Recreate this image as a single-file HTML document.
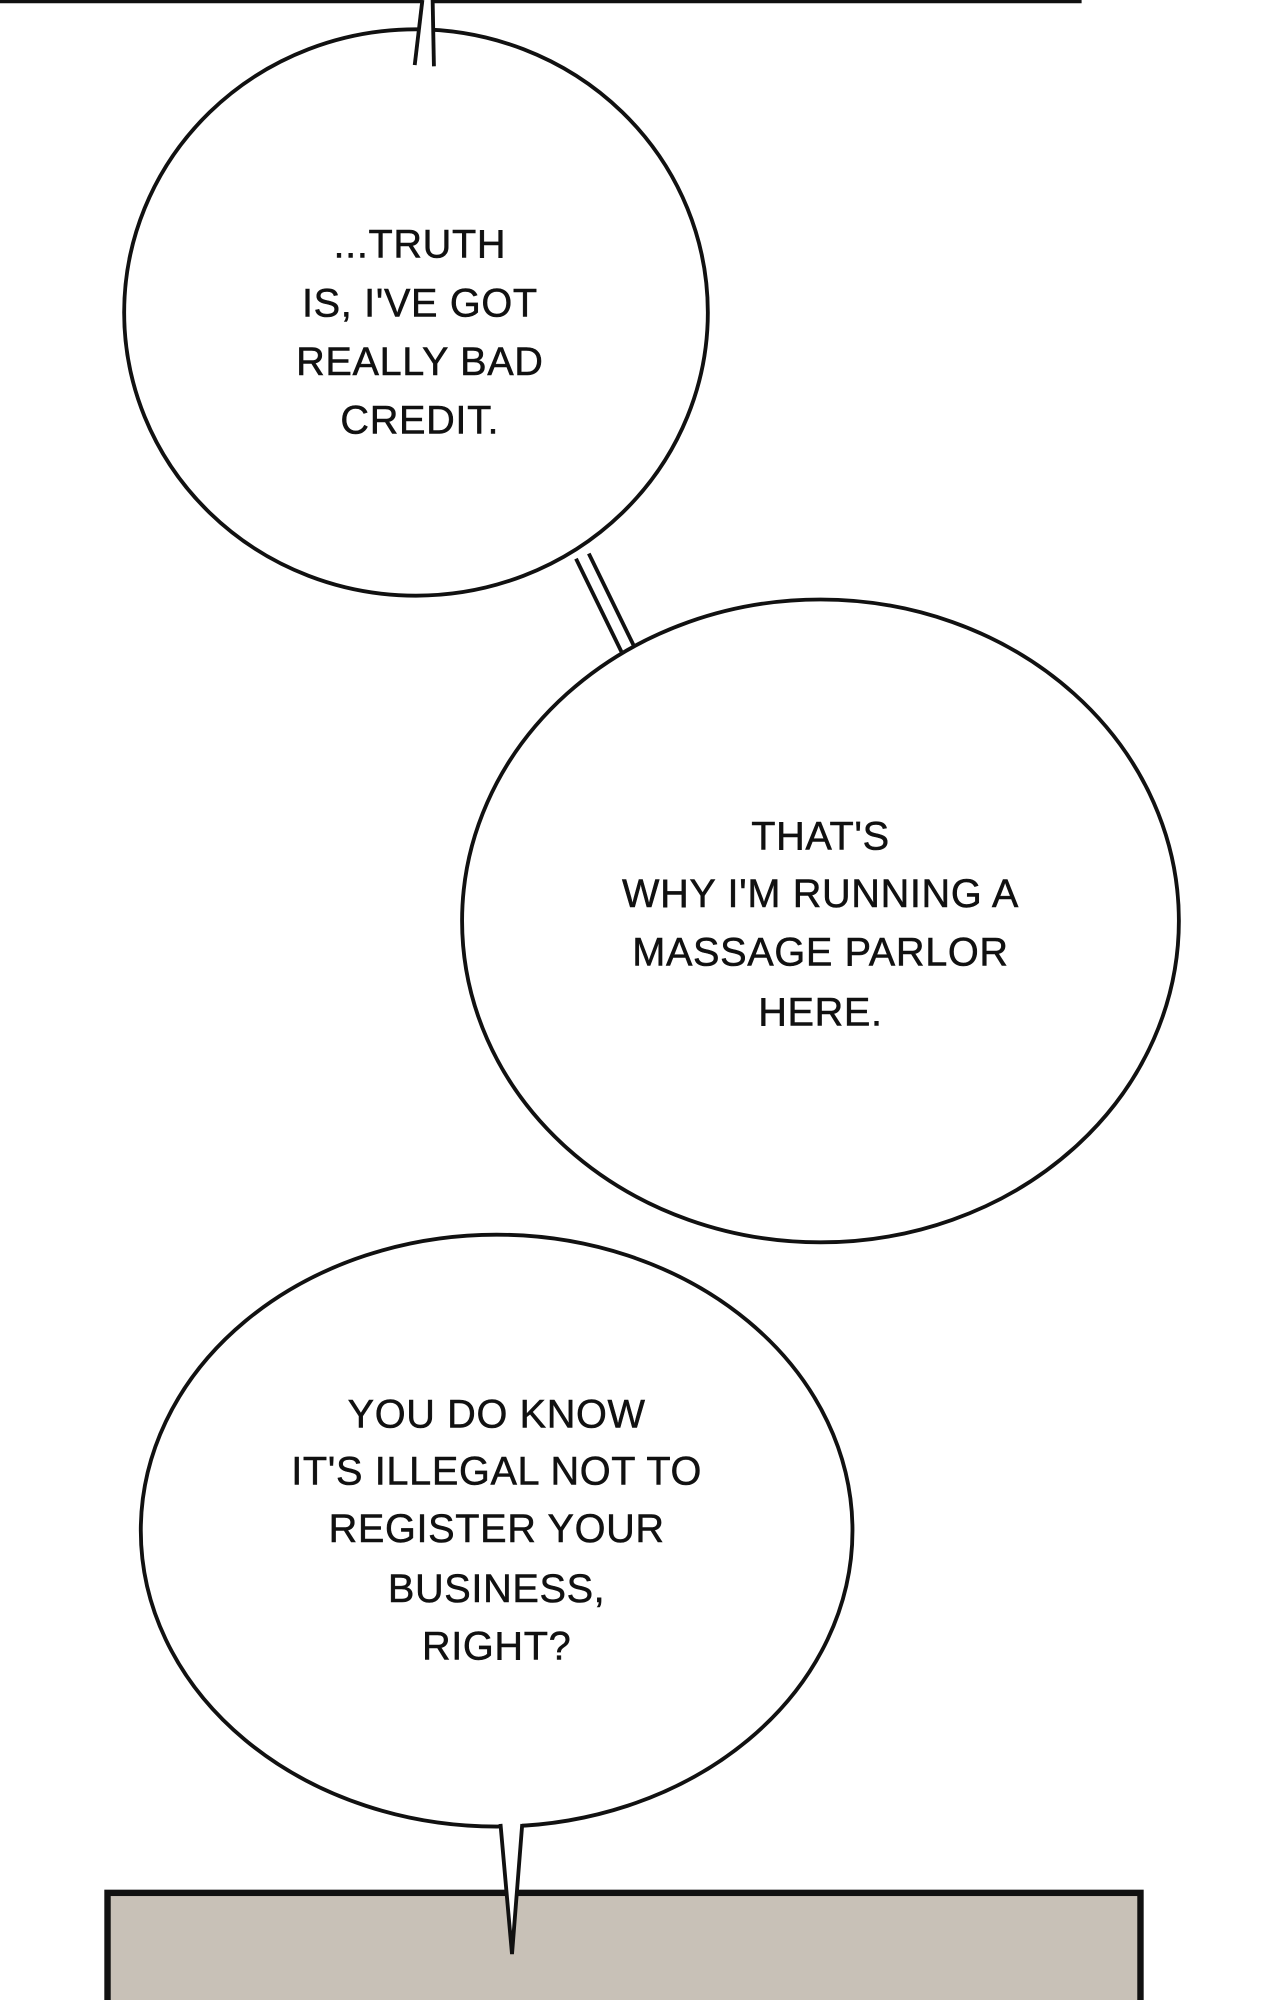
<!DOCTYPE html>
<html><head><meta charset="utf-8"><style>
html,body{margin:0;padding:0;background:#fff;width:1280px;height:2000px;overflow:hidden}
svg{display:block}
text{font-family:"Liberation Sans",sans-serif;font-size:31px;fill:#111;stroke:#111;stroke-width:0.4;text-anchor:middle;letter-spacing:0.5px}
</style></head><body>
<svg width="1280" height="2000" viewBox="0 0 1000 1568" preserveAspectRatio="none">
<rect width="1000" height="1568" fill="#fff"/>
<line x1="0" y1="1" x2="845" y2="1" stroke="#111" stroke-width="3"/>
<!-- bubble 1 -->
<ellipse cx="325" cy="245" rx="228" ry="222" fill="#fff" stroke="#111" stroke-width="3"/>
<path d="M330 0 L325 56 L340 56 L338 0 Z" fill="#fff" stroke="none"/>
<polyline points="330,0 324,51" fill="none" stroke="#111" stroke-width="3"/>
<polyline points="338,0 339,52" fill="none" stroke="#111" stroke-width="3"/>
<!-- connector -->
<line x1="450" y1="438" x2="486" y2="512" stroke="#111" stroke-width="3"/>
<line x1="460" y1="434" x2="496" y2="508" stroke="#111" stroke-width="3"/>
<!-- bubble 2 -->
<ellipse cx="641" cy="722" rx="280" ry="252" fill="#fff" stroke="#111" stroke-width="3"/>
<!-- bubble 3 -->
<ellipse cx="388" cy="1200" rx="278" ry="232" fill="#fff" stroke="#111" stroke-width="3"/>
<!-- bottom panel -->
<rect x="84" y="1484" width="807" height="100" fill="#c8c1b7" stroke="#111" stroke-width="5"/>
<path d="M391 1426 L400 1532 L408 1426 Z" fill="#fff" stroke="none"/>
<polyline points="391,1430 400,1532 408,1430" fill="none" stroke="#111" stroke-width="3"/>
<text x="328" y="202">...TRUTH</text>
<text x="328" y="248">IS, I'VE GOT</text>
<text x="328" y="294">REALLY BAD</text>
<text x="328" y="340">CREDIT.</text>
<text x="641" y="666">THAT'S</text>
<text x="641" y="711">WHY I'M RUNNING A</text>
<text x="641" y="757">MASSAGE PARLOR</text>
<text x="641" y="804">HERE.</text>
<text x="388" y="1119">YOU DO KNOW</text>
<text x="388" y="1164">IT'S ILLEGAL NOT TO</text>
<text x="388" y="1209">REGISTER YOUR</text>
<text x="388" y="1256">BUSINESS,</text>
<text x="388" y="1301">RIGHT?</text>
</svg>
</body></html>
